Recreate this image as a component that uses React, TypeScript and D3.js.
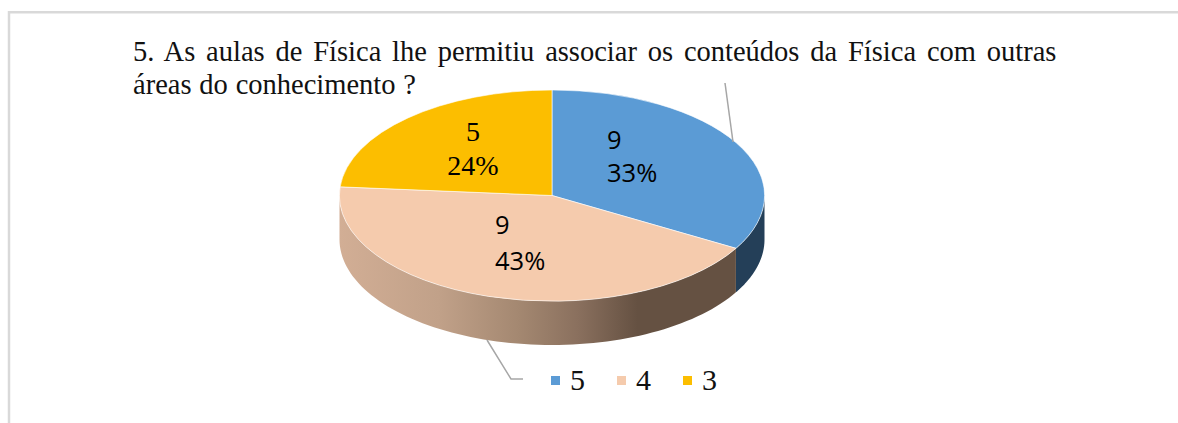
import React from "react";
import * as d3 from "d3";

const categories = ["5", "4", "3"];
const percents = [33, 43, 24];
const sliceShares = [33.35, 42.95, 23.7];
const counts = ["9", "9", "5"];
const colors = ["#5b9bd5", "#f5cbad", "#fcbe00"];
const titleLine1 = "5. As aulas de Física lhe permitiu associar os conteúdos da Física com outras";
const titleLine2 = "áreas do conhecimento ?";

const W = 1178, H = 423;
const cx = 552, cy = 195.5, rx = 212.5, ry = 105.5, depth = 44;
const serif = "'Liberation Serif', serif";
const sans = "'Open Sans', sans-serif";
const titleSize = 28.5;

function fitWordSpacing(text: string, width: number) {
  const ctx = document.createElement("canvas").getContext("2d");
  if (!ctx) return 0;
  ctx.font = `${titleSize}px 'Liberation Serif'`;
  const spaces = text.split(" ").length - 1;
  return (width - ctx.measureText(text).width) / spaces;
}

const arcs = d3.pie<number>().sort(null).startAngle(0).endAngle(2 * Math.PI)(sliceShares);
const sx = d3.scaleLinear().domain([-1, 1]).range([cx - rx, cx + rx]);
const sy = d3.scaleLinear().domain([-1, 1]).range([cy - ry, cy + ry]);
const unitArc = d3.arc<d3.PieArcDatum<number>>().innerRadius(0).outerRadius(1);
const line = d3.line();

function wall(a0: number, a1: number) {
  const from = Math.max(a0, Math.PI / 2);
  const to = Math.min(a1, (3 * Math.PI) / 2);
  if (to <= from) return null;
  const n = 80;
  const top = d3.range(n + 1).map((i) => {
    const a = from + ((to - from) * i) / n;
    return [sx(Math.sin(a)), sy(-Math.cos(a))] as [number, number];
  });
  const bottom = top.slice().reverse().map(([x, y]) => [x, y + depth] as [number, number]);
  return line([...top, ...bottom]) + "Z";
}

const labels = [
  { lines: [counts[0], percents[0] + "%"], x: 607, y: [149, 182], font: sans, size: 25.5 },
  { lines: [counts[1], percents[1] + "%"], x: 495, y: [234, 270], font: sans, size: 25.5 },
  { lines: [counts[2], percents[2] + "%"], x: 473, y: [141, 175], font: serif, size: 28, middle: true },
];

const legendX = [551, 617, 683];

export default function App() {
  return (
    <svg width={W} height={H} style={{ position: "absolute", left: 0, top: 0, background: "#fff" }}>
      <defs>
        <linearGradient id="wallOrange" gradientUnits="userSpaceOnUse" x1={339} x2={737} y1={0} y2={0}>
          <stop offset="0" stopColor="#d2ae95" />
          <stop offset="0.25" stopColor="#c1a189" />
          <stop offset="0.45" stopColor="#a48871" />
          <stop offset="0.6" stopColor="#8a705e" />
          <stop offset="0.75" stopColor="#655142" />
          <stop offset="1" stopColor="#655142" />
        </linearGradient>
      </defs>
      <path d="M1178 12.3H9V423" fill="none" stroke="#d9d9d9" strokeWidth={2.5} />

      <text fontFamily={serif} fontSize={titleSize} fill="#111" x={133} y={61} style={{ wordSpacing: fitWordSpacing(titleLine1, 925) }}>
        {titleLine1}
      </text>
      <text fontFamily={serif} fontSize={titleSize} fill="#111" x={133} y={94} style={{ wordSpacing: fitWordSpacing(titleLine2, 283) }}>
        {titleLine2}
      </text>

      {arcs.map((d, i) => {
        const p = wall(d.startAngle, d.endAngle);
        return p ? <path key={i} d={p} fill={i === 1 ? "url(#wallOrange)" : i === 0 ? "#243f58" : "#a88a00"} /> : null;
      })}
      {arcs.map((d, i) => (
        <path
          key={i}
          d={unitArc(d) as string}
          transform={`translate(${cx},${cy}) scale(${rx},${ry})`}
          fill={colors[i]}
          stroke="#fff"
          strokeOpacity={0.6}
          strokeWidth={1}
          vectorEffect="non-scaling-stroke"
        />
      ))}

      <polyline points="725,83 733,142" fill="none" stroke="#a6a6a6" strokeWidth={1.5} />
      <polyline points="487,340 511,379 523,379" fill="none" stroke="#a6a6a6" strokeWidth={1.5} />

      {labels.map((l, i) => (
        <g key={i} fontFamily={l.font} fontSize={l.size} fill="#000">
          {l.lines.map((t, j) => (
            <text key={j} x={l.x} y={l.y[j]} textAnchor={l.middle ? "middle" : "start"}>{t}</text>
          ))}
        </g>
      ))}

      {categories.map((c, i) => (
        <g key={c}>
          <rect x={legendX[i]} y={376} width={9} height={9} fill={colors[i]} />
          <text x={legendX[i] + 19} y={390} fontFamily={serif} fontSize={30} fill="#111">{c}</text>
        </g>
      ))}
    </svg>
  );
}
